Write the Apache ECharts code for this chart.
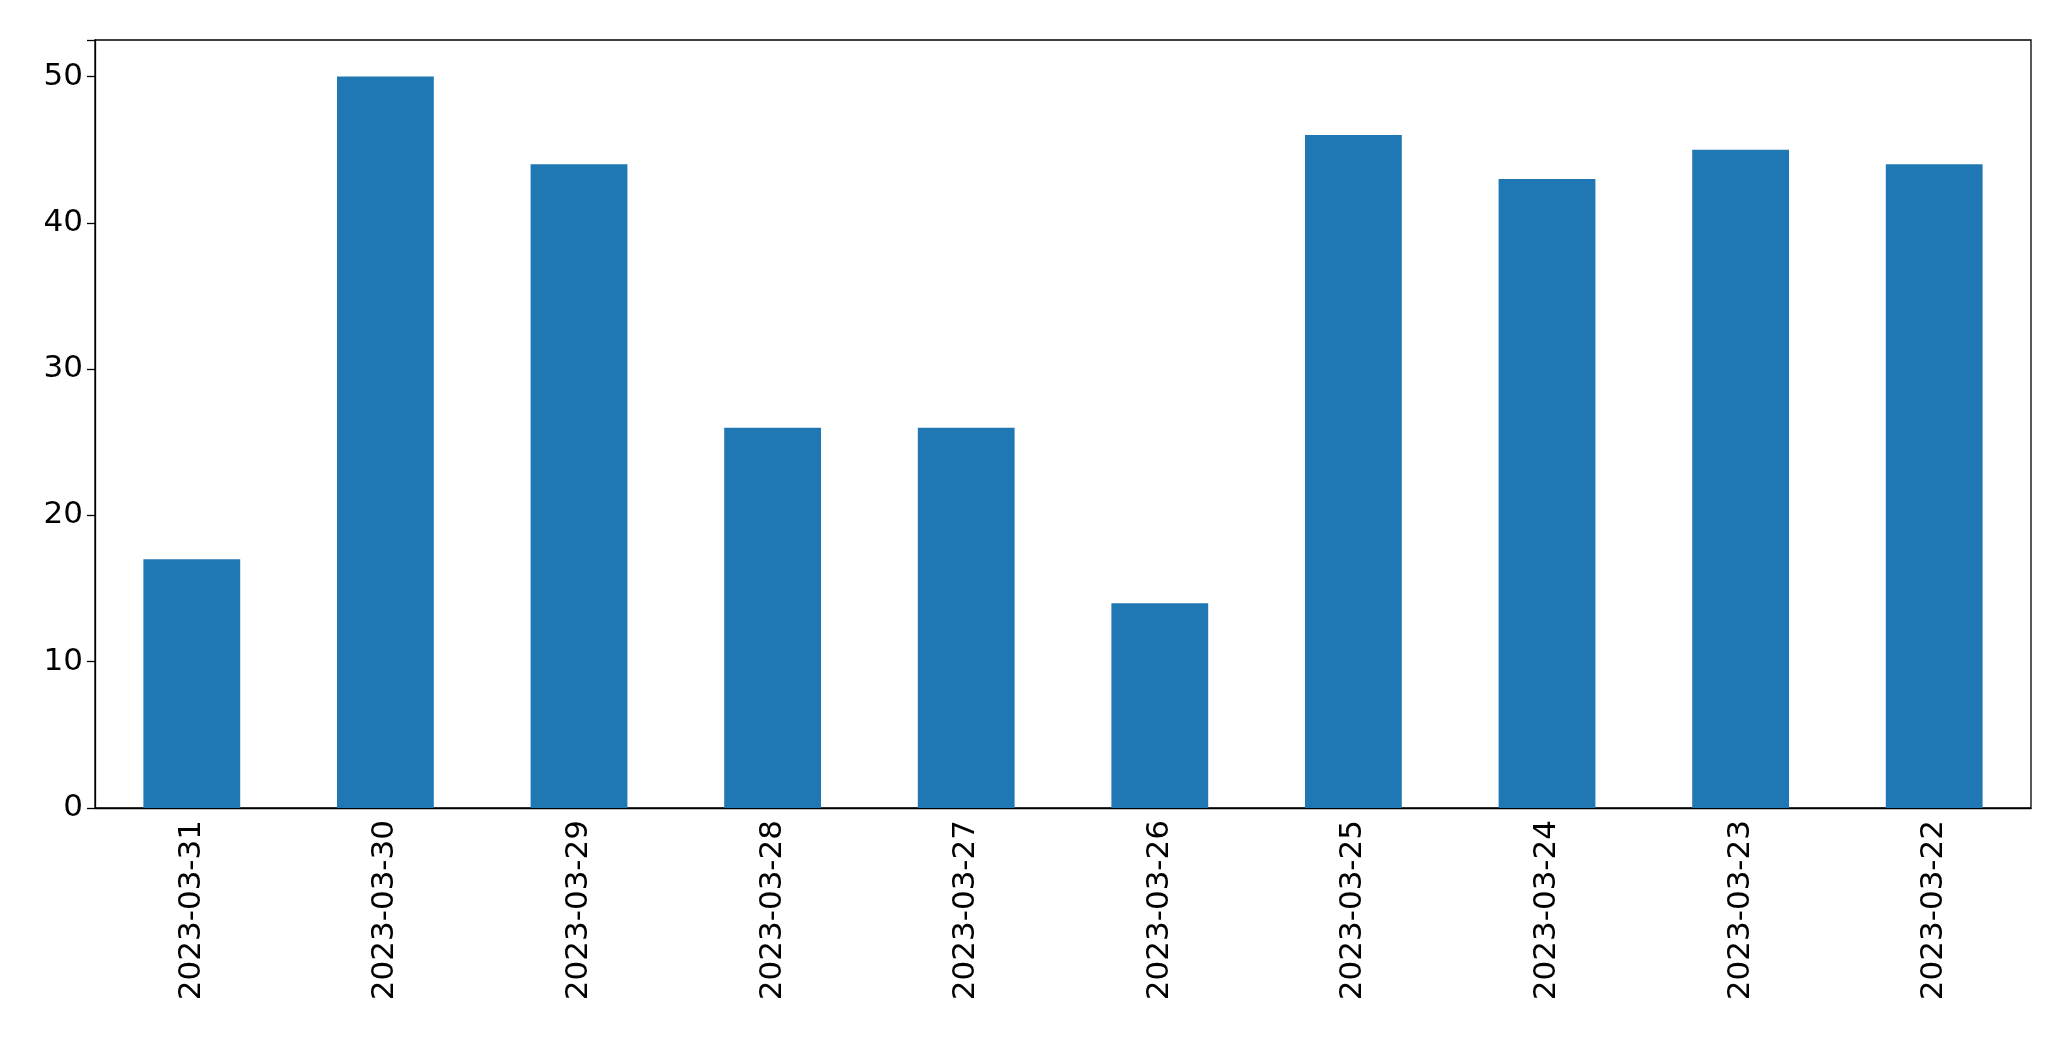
<!DOCTYPE html>
<html><head><meta charset="utf-8">
<script src="https://cdn.jsdelivr.net/npm/echarts@6/dist/echarts.min.js"></script>
<style>html,body{margin:0;padding:0;background:#fff}#c{width:2071px;height:1061px}</style>
</head><body><div id="c"></div>
<script>
const categories = ["2023-03-31","2023-03-30","2023-03-29","2023-03-28","2023-03-27","2023-03-26","2023-03-25","2023-03-24","2023-03-23","2023-03-22"];
const values = [17, 50, 44, 26, 26, 14, 46, 43, 45, 44];
const yTicks = [0, 10, 20, 30, 40, 50];
const chart = echarts.init(document.getElementById('c'));
const font = 'DejaVu Sans';
chart.setOption({
  animation: false,
  grid: {left: 95, right: 40, top: 40, bottom: 253, show: true, borderColor: '#000', borderWidth: 1.3},
  xAxis: {type: 'category', data: categories,
    axisLine: {lineStyle: {color: '#000', width: 1.3}},
    axisTick: {alignWithLabel: true, length: 8, lineStyle: {color: '#000', width: 1.3}},
    axisLabel: {rotate: 90, color: '#000', fontSize: 31, fontFamily: font, margin: 12}},
  yAxis: {type: 'value', min: 0, max: 52.5, interval: 10,
    splitLine: {show: false},
    axisLine: {show: true, lineStyle: {color: '#000', width: 1.3}},
    axisTick: {show: true, length: 8, lineStyle: {color: '#000', width: 1.3}},
    axisLabel: {color: '#000', fontSize: 31, fontFamily: font, margin: 12,
      formatter: v => yTicks.includes(v) ? String(v) : ''}},
  series: [{type: 'bar', data: values, barWidth: '50%', itemStyle: {color: '#1f77b4'}}]
});
</script></body></html>
